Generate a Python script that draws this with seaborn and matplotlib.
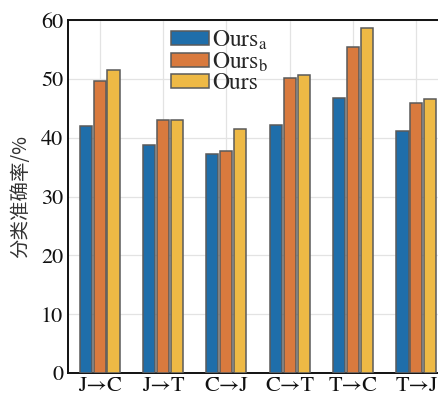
import numpy as np
import pandas as pd
import matplotlib
matplotlib.use("Agg")
import matplotlib.pyplot as plt
import seaborn as sns

# data
tasks = ["J→C", "J→T", "C→J", "C→T", "T→C", "T→J"]
ours_a = [42.0, 38.7, 37.3, 42.1, 46.8, 41.1]
ours_b = [49.6, 43.0, 37.8, 50.2, 55.4, 46.0]
ours = [51.5, 43.0, 41.5, 50.6, 58.7, 46.6]
methods = ["Ours$_\\mathrm{a}$", "Ours$_\\mathrm{b}$", "Ours"]
colors = ["#1f6eaa", "#d97a3e", "#eeb945"]

df = pd.DataFrame({
    "task": tasks * 3,
    "acc": ours_a + ours_b + ours,
    "method": [methods[0]] * 6 + [methods[1]] * 6 + [methods[2]] * 6,
})

sns.set_style("white")
plt.rcParams["font.family"] = ["STIXGeneral", "Liberation Serif", "DejaVu Serif"]
plt.rcParams["mathtext.fontset"] = "stix"

fig = plt.figure(figsize=(4.38, 3.96), dpi=100)
ax = fig.add_axes([0.155, 0.058, 0.868, 0.891])

sns.barplot(data=df, x="task", y="acc", hue="method", palette=colors,
            width=0.66, gap=0.13, edgecolor="#5a5a5a", linewidth=1.1,
            saturation=1, ax=ax, zorder=3)

ax.set_xlim(-0.5, 5.5)
ax.set_ylim(0, 60)
ax.set_yticks([0, 10, 20, 30, 40, 50, 60])
ax.grid(True, color="#e3e3e3", linewidth=0.9, zorder=0)
ax.set_axisbelow(True)
ax.set_xlabel("")
ax.set_ylabel("分类准确率/%", family=["Noto Sans CJK SC", "DejaVu Sans"],
              fontsize=14, color="#333333", labelpad=7)
ax.tick_params(axis="both", direction="in", length=4, width=1, labelsize=16,
               colors="#111111")
ax.tick_params(axis="x", pad=2)
for s in ["left", "bottom", "top"]:
    ax.spines[s].set_linewidth(1.4)
    ax.spines[s].set_color("#111111")
ax.spines["right"].set_visible(False)

ax.legend(loc="upper left", bbox_to_anchor=(0.229, 1.023), frameon=False,
          fontsize=17, handlelength=1.6, handleheight=0.55,
          handletextpad=0.12, labelspacing=-0.05, borderaxespad=0.3)

plt.savefig("out.png", dpi=100)
